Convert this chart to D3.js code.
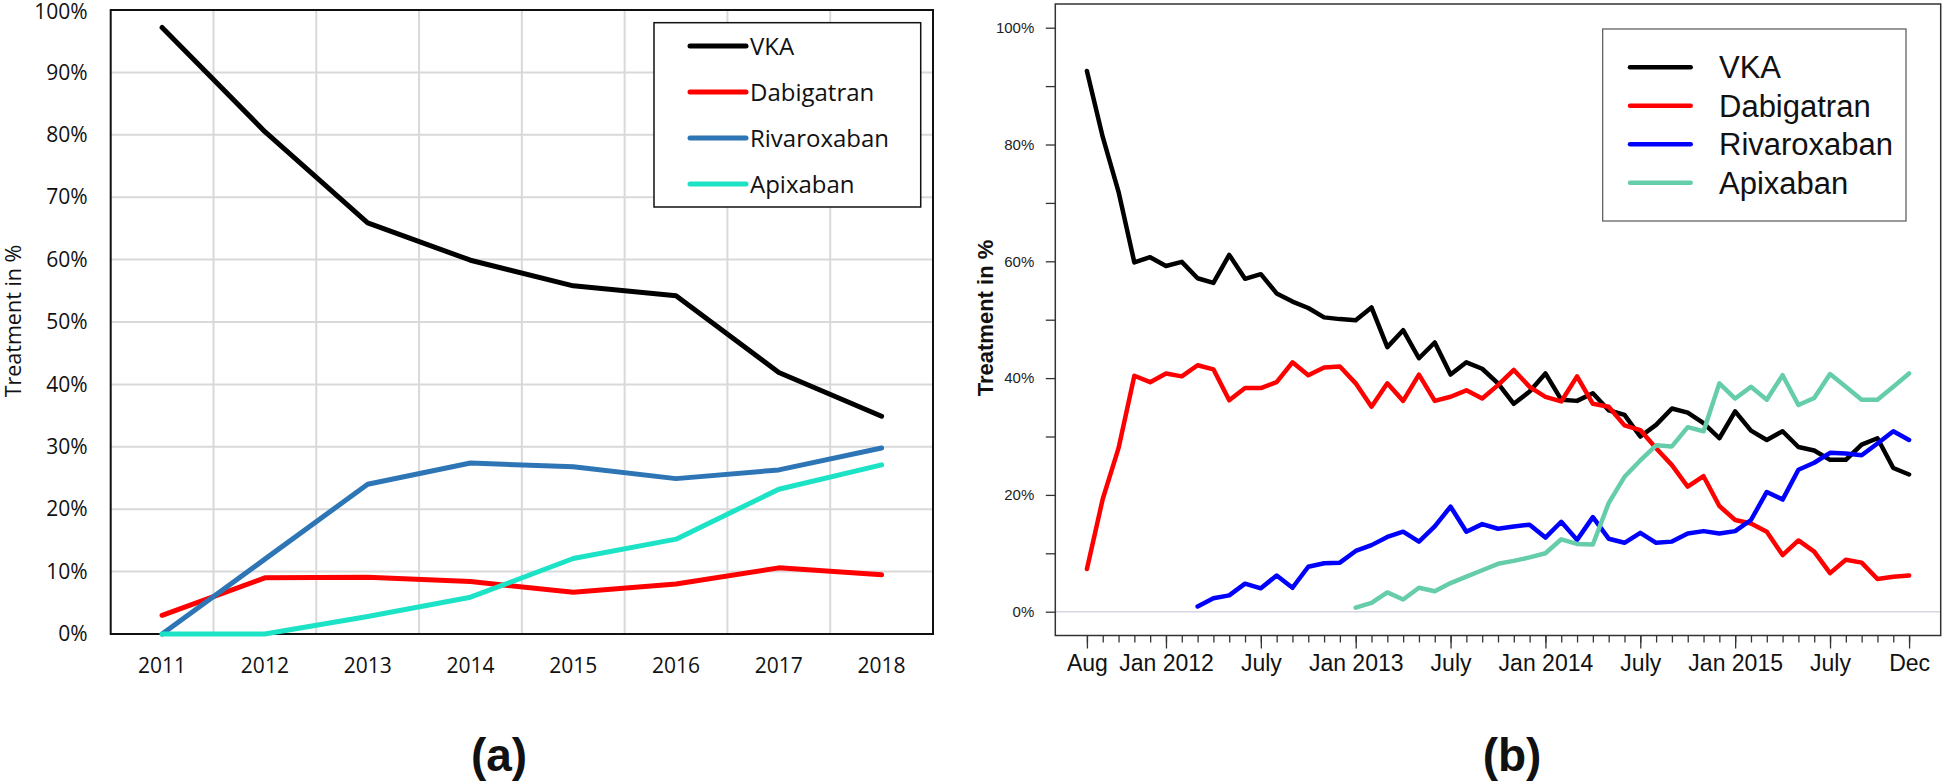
<!DOCTYPE html>
<html><head><meta charset="utf-8">
<script src="https://cdn.jsdelivr.net/npm/d3@7"></script>
<style>body{margin:0;background:#fff;} svg{display:block}</style>
</head><body><svg id="chart" width="1943" height="782"></svg>
<script>
// ---------- Panel (a) data ----------
const yearsA = ["2011","2012","2013","2014","2015","2016","2017","2018"];
const vkaA = [97.2, 80.5, 65.9, 59.9, 55.8, 54.2, 41.9, 34.9];
const dabigatranA = [3.0, 9.0, 9.1, 8.4, 6.7, 8.0, 10.6, 9.5];
const rivaroxabanA = [0, 12.0, 24.0, 27.4, 26.8, 24.9, 26.3, 29.8];
const apixabanA = [0, 0, 2.8, 5.9, 12.1, 15.2, 23.2, 27.1];
const yTicksA = [0,10,20,30,40,50,60,70,80,90,100];

// ---------- Panel (b) data (monthly, index 0 = Aug 2011, 52 = Dec 2015) ----------
const vkaB = [92.6,81.3,71.9,59.8,60.7,59.2,59.9,57.1,56.3,61.1,57.0,57.8,54.5,53.1,52.0,50.4,50.1,49.9,52.1,45.3,
  48.2,43.4,46.1,40.6,42.7,41.6,39.1,35.6,37.7,40.8,36.3,36.1,37.4,34.5,33.7,30.0,32.0,34.8,34.1,32.3,
  29.7,34.3,31.0,29.4,30.9,28.2,27.6,26.0,26.0,28.6,29.7,24.6,23.5];
const dabigatranB = [7.3,19.3,28.0,40.4,39.3,40.8,40.3,42.2,41.5,36.2,38.3,38.3,39.3,42.7,40.5,41.8,42.0,39.1,35.1,39.1,
  36.1,40.6,36.1,36.8,37.9,36.5,38.8,41.4,38.5,36.8,36.0,40.3,35.6,35.1,31.9,31.1,28.0,25.1,21.4,23.2,
  18.1,15.7,15.1,13.7,9.7,12.2,10.3,6.6,8.9,8.4,5.6,6.0,6.2];
const rivaroxabanStartB = 7;
const rivaroxabanB = [0.9,2.3,2.8,4.8,4.0,6.2,4.1,7.7,8.3,8.4,10.4,11.4,12.8,13.7,12.0,14.6,18.0,13.7,15.0,14.2,
  14.6,14.9,12.7,15.4,12.3,16.2,12.5,11.8,13.5,11.8,12.0,13.4,13.8,13.4,13.8,15.7,20.5,19.2,24.3,25.5,
  27.2,27.1,26.8,28.8,30.9,29.4];
const apixabanStartB = 17;
const apixabanB = [0.7,1.5,3.3,2.1,4.1,3.5,4.9,6.0,7.1,8.2,8.7,9.3,10.0,12.4,11.6,11.5,18.6,23.1,25.9,28.5,
  28.3,31.6,30.9,39.1,36.5,38.5,36.3,40.5,35.4,36.6,40.7,38.5,36.3,36.3,38.5,40.8];
const monthCountB = 53;
const xTickIndexB = [0,5,11,17,23,29,35,41,47,52];
const xTickLabelsB = ["Aug","Jan 2012","July","Jan 2013","July","Jan 2014","July","Jan 2015","July","Dec"];
const yTicksB = [0,20,40,60,80,100];
const yMinorTicksB = [10,30,50,70,90];

const seriesNames = ["VKA","Dabigatran","Rivaroxaban","Apixaban"];
const colorsA = ["#000000","#ff0000","#2e75b6","#1de3c6"];
const colorsB = ["#000000","#ff0000","#0000ff","#66cdaa"];

const svg = d3.select("#chart");
const fontA = "'Open Sans', sans-serif";
const fontB = "'Liberation Sans', Arial, sans-serif";

// ================= Panel (a) =================
const A = {l:110.7, r:933, t:10, b:634};
const xA = d3.scaleBand().domain(yearsA).range([A.l, A.r]);
const yA = d3.scaleLinear().domain([0,100]).range([A.b, A.t]);
const gA = svg.append("g");

gA.append("g").selectAll("line").data(yTicksA.filter(d=>d>0)).join("line")
  .attr("x1",A.l).attr("x2",A.r).attr("y1",d=>yA(d)).attr("y2",d=>yA(d))
  .attr("stroke","#d9d9d9").attr("stroke-width",2);
gA.append("g").selectAll("line").data(yearsA.slice(1)).join("line")
  .attr("x1",d=>xA(d)).attr("x2",d=>xA(d)).attr("y1",A.t).attr("y2",A.b)
  .attr("stroke","#d9d9d9").attr("stroke-width",2);

gA.append("rect").attr("x",A.l).attr("y",A.t).attr("width",A.r-A.l).attr("height",A.b-A.t)
  .attr("fill","none").attr("stroke","#111").attr("stroke-width",2);

const axA = gA.append("g").attr("transform",`translate(${A.l},0)`)
  .call(d3.axisLeft(yA).tickValues(yTicksA).tickSize(0).tickPadding(23).tickFormat(d=>d+"%"));
axA.select(".domain").remove();
axA.selectAll("text").attr("font-family",fontA).attr("font-size",21).attr("fill","#111");
axA.selectAll(".tick").filter(d=>d===100).select("text").attr("dy","0.42em");

const axAx = gA.append("g").attr("transform",`translate(0,${A.b})`)
  .call(d3.axisBottom(xA).tickSize(0).tickPadding(24));
axAx.select(".domain").remove();
axAx.selectAll("text").attr("font-family",fontA).attr("font-size",21).attr("fill","#111");

gA.append("text").attr("transform",`translate(21,321) rotate(-90)`).attr("text-anchor","middle")
  .attr("font-family",fontA).attr("font-size",21.5).attr("fill","#111").text("Treatment in %");

const seriesA = [vkaA, dabigatranA, rivaroxabanA, apixabanA];
const lineA = d3.line().x((d,i)=>xA(yearsA[i])+xA.bandwidth()/2).y(d=>yA(d));
seriesA.forEach((s,k)=>{
  gA.append("path").attr("d",lineA(s)).attr("fill","none").attr("stroke",colorsA[k])
    .attr("stroke-width",5).attr("stroke-linejoin","round").attr("stroke-linecap","round");
});

const legA = gA.append("g");
legA.append("rect").attr("x",654).attr("y",22.7).attr("width",266.7).attr("height",184.3)
  .attr("fill","#fff").attr("stroke","#111").attr("stroke-width",1.5);
seriesNames.forEach((n,k)=>{
  const cy = 46 + k*46;
  legA.append("line").attr("x1",690).attr("x2",746).attr("y1",cy).attr("y2",cy)
    .attr("stroke",colorsA[k]).attr("stroke-width",5).attr("stroke-linecap","round");
  legA.append("text").attr("x",750).attr("y",cy+8.5).attr("font-family",fontA).attr("font-size",24)
    .attr("fill","#111").text(n);
});

svg.append("text").attr("x",499).attr("y",771).attr("text-anchor","middle")
  .attr("font-family",fontB).attr("font-weight","bold").attr("font-size",46).attr("fill","#111").text("(a)");

// ================= Panel (b) =================
const B = {l:1055.3, r:1940.7, t:4, b:635.5};
const xB = d3.scaleLinear().domain([-2,54]).range([B.l, B.r]);
const yB = d3.scaleLinear().domain([0,100]).range([611.7, 27.7]);
const gB = svg.append("g");

gB.append("line").attr("x1",B.l).attr("x2",B.r).attr("y1",yB(0)).attr("y2",yB(0))
  .attr("stroke","#d6d6e2").attr("stroke-width",1.5);

const ayMinor = gB.append("g").attr("transform",`translate(${B.l},0)`)
  .call(d3.axisLeft(yB).tickValues(yMinorTicksB).tickSize(9.5).tickFormat(""));
const ay = gB.append("g").attr("transform",`translate(${B.l},0)`)
  .call(d3.axisLeft(yB).tickValues(yTicksB).tickSize(9.5).tickPadding(11.5).tickFormat(d=>d+"%"));
[ayMinor, ay].forEach(a=>{ a.select(".domain").remove(); a.selectAll("line").attr("stroke","#333").attr("stroke-width",1.3); });
ay.selectAll("text").attr("font-family",fontB).attr("font-size",15).attr("fill","#222");

const axMinor = gB.append("g").attr("transform",`translate(0,${B.b})`)
  .call(d3.axisBottom(xB).tickValues(d3.range(monthCountB)).tickSize(7).tickFormat(""));
const ax = gB.append("g").attr("transform",`translate(0,${B.b})`)
  .call(d3.axisBottom(xB).tickValues(xTickIndexB).tickSize(13).tickPadding(6)
    .tickFormat((d,i)=>xTickLabelsB[i]));
[axMinor, ax].forEach(a=>{ a.select(".domain").remove(); a.selectAll("line").attr("stroke","#333").attr("stroke-width",1.3); });
ax.selectAll("text").attr("font-family",fontB).attr("font-size",23).attr("fill","#111");

gB.append("rect").attr("x",B.l).attr("y",B.t).attr("width",B.r-B.l).attr("height",B.b-B.t)
  .attr("fill","none").attr("stroke","#333").attr("stroke-width",1.5);

gB.append("text").attr("transform",`translate(993,318) rotate(-90)`).attr("text-anchor","middle")
  .attr("font-family",fontB).attr("font-weight","bold").attr("font-size",22).attr("fill","#111").text("Treatment in %");

const seriesB = [[vkaB,0],[dabigatranB,0],[rivaroxabanB,rivaroxabanStartB],[apixabanB,apixabanStartB]];
seriesB.forEach(([s,start],k)=>{
  const line = d3.line().x((d,i)=>xB(start+i)).y(d=>yB(d));
  gB.append("path").attr("d",line(s)).attr("fill","none").attr("stroke",colorsB[k])
    .attr("stroke-width",4.5).attr("stroke-linejoin","round").attr("stroke-linecap","round");
});

const legB = gB.append("g");
legB.append("rect").attr("x",1602.7).attr("y",29).attr("width",303.3).attr("height",192)
  .attr("fill","#fff").attr("stroke","#555").attr("stroke-width",1.2);
seriesNames.forEach((n,k)=>{
  const cy = 67.3 + k*38.5;
  legB.append("line").attr("x1",1630).attr("x2",1690.7).attr("y1",cy).attr("y2",cy)
    .attr("stroke",colorsB[k]).attr("stroke-width",4.5).attr("stroke-linecap","round");
  legB.append("text").attr("x",1719).attr("y",cy+11).attr("font-family",fontB).attr("font-size",31)
    .attr("fill","#111").text(n);
});

svg.append("text").attr("x",1512).attr("y",771).attr("text-anchor","middle")
  .attr("font-family",fontB).attr("font-weight","bold").attr("font-size",46).attr("fill","#111").text("(b)");
</script></body></html>
